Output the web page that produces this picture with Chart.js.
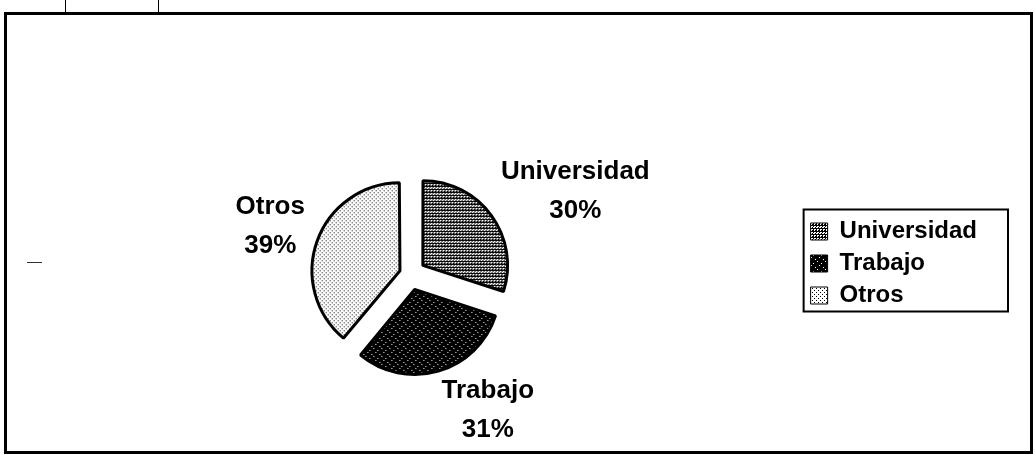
<!DOCTYPE html>
<html>
<head>
<meta charset="utf-8">
<script src="https://cdn.jsdelivr.net/npm/chart.js@4.4.0/dist/chart.umd.min.js"></script>
<style>
  html, body { margin: 0; padding: 0; background: #fff; }
  #wrap { position: relative; width: 1035px; height: 455px; overflow: hidden; }
  #frame { position: absolute; left: 4px; top: 12px; width: 1023px; height: 436px; border: 3px solid #000; }
  .tick { position: absolute; top: 0; width: 1px; height: 13px; background: #000; }
  .dash { position: absolute; left: 27px; top: 262px; width: 15px; height: 1px; background: #333; }
  #chartBox { position: absolute; left: 0; top: 0; width: 1035px; height: 455px; }
</style>
</head>
<body>
<div id="wrap">
  <div id="frame"></div>
  <div class="tick" style="left:65px"></div>
  <div class="tick" style="left:158px"></div>
  <div class="dash"></div>
  <div id="chartBox"><canvas id="graph1"></canvas></div>
</div>
<script>
const categories = ["Universidad", "Trabajo", "Otros"];
const percentValues = [30, 31, 39];
const percentLabels = ["30%", "31%", "39%"];

// texturas tipo impresión en blanco y negro
function makePattern(rows) {
  let c = document.createElement("canvas");
  c.width = rows[0].length;
  c.height = rows.length;
  let cx = c.getContext("2d");
  for (let y = 0; y < rows.length; y++) {
    for (let x = 0; x < rows[y].length; x++) {
      cx.fillStyle = rows[y][x] === "1" ? "#000" : "#fff";
      cx.fillRect(x, y, 1, 1);
    }
  }
  return cx.createPattern(c, "repeat");
}

const patUni = makePattern([
  "111111",
  "100100",
  "101101",
  "111111",
  "100100",
  "001001"
]);
const patTrab = makePattern([
  "11111111",
  "11101111",
  "11111111",
  "11111110",
  "11111111",
  "10111111",
  "11111111",
  "11111011"
]);
const patOtros = makePattern([
  "1000",
  "0000",
  "0010",
  "0000"
]);

const labelFont = "bold 26px 'Liberation Sans', Arial, sans-serif";

// etiquetas fuera del pastel, estilo Excel
const sliceLabels = {
  id: "sliceLabels",
  afterDatasetsDraw(chart) {
    let ctx = chart.ctx;
    let arcs = chart.getDatasetMeta(0).data;
    ctx.save();
    ctx.fillStyle = "#000";
    ctx.font = labelFont;
    ctx.textAlign = "center";
    ctx.textBaseline = "middle";
    let gap = 39;
    arcs.forEach((arc, i) => {
      let mid = (arc.startAngle + arc.endAngle) / 2;
      let dx = Math.cos(mid), dy = Math.sin(mid);
      let r = arc.outerRadius + 28;
      let px = arc.x + dx * r;
      let py = arc.y + dy * r;
      let hw = Math.max(ctx.measureText(categories[i]).width, ctx.measureText(percentLabels[i]).width) / 2;
      let hh = (gap + 20) / 2;
      let cx = px + Math.sign(dx) * hw;
      let cy = py + dy * hh;
      ctx.fillText(categories[i], cx, cy - gap / 2);
      ctx.fillText(percentLabels[i], cx, cy + gap / 2);
    });
    ctx.restore();
  }
};

const legendBorder = {
  id: "legendBorder",
  afterLayout(chart) {
    chart.legend.top -= 11;
    chart.legend.bottom -= 11;
  },
  afterDraw(chart) {
    let lg = chart.legend;
    let ctx = chart.ctx;
    let n = lg.legendItems.length;
    let mid = (lg.top + lg.bottom) / 2;
    let top = mid - (n - 1) * 16 - 22;
    let bottom = mid + (n - 1) * 16 + 16;
    ctx.save();
    ctx.strokeStyle = "#000";
    ctx.lineWidth = 2;
    ctx.strokeRect(lg.left + 1, top, lg.width + 20, bottom - top);
    ctx.restore();
  }
};

const dataGraph1 = {
  labels: categories,
  datasets: [
    {
      data: percentValues,
      backgroundColor: [patUni, patTrab, patOtros],
      borderColor: "#000",
      borderWidth: 3,
      offset: [62, 62, 44],
      radius: 84
    }
  ]
};

const configGraph1 = {
  type: "pie",
  data: dataGraph1,
  options: {
    responsive: false,
    animation: false,
    layout: { padding: { left: 18, right: 48, top: 100, bottom: 6 } },
    plugins: {
      tooltip: { enabled: false },
      legend: {
        position: "right",
        labels: {
          color: "#000",
          font: { family: "'Liberation Sans', Arial, sans-serif", size: 24, weight: "bold" },
          boxWidth: 17,
          boxHeight: 17,
          padding: 8,
          generateLabels(chart) {
            let ds = chart.data.datasets[0];
            return chart.data.labels.map((l, i) => ({
              text: l,
              fillStyle: ds.backgroundColor[i],
              strokeStyle: "#000",
              lineWidth: 1,
              index: i
            }));
          }
        }
      }
    }
  },
  plugins: [sliceLabels, legendBorder]
};

let canvas = document.getElementById("graph1");
canvas.width = 1035;
canvas.height = 455;
let graph1Visible = new Chart(canvas, configGraph1);
</script>
</body>
</html>
